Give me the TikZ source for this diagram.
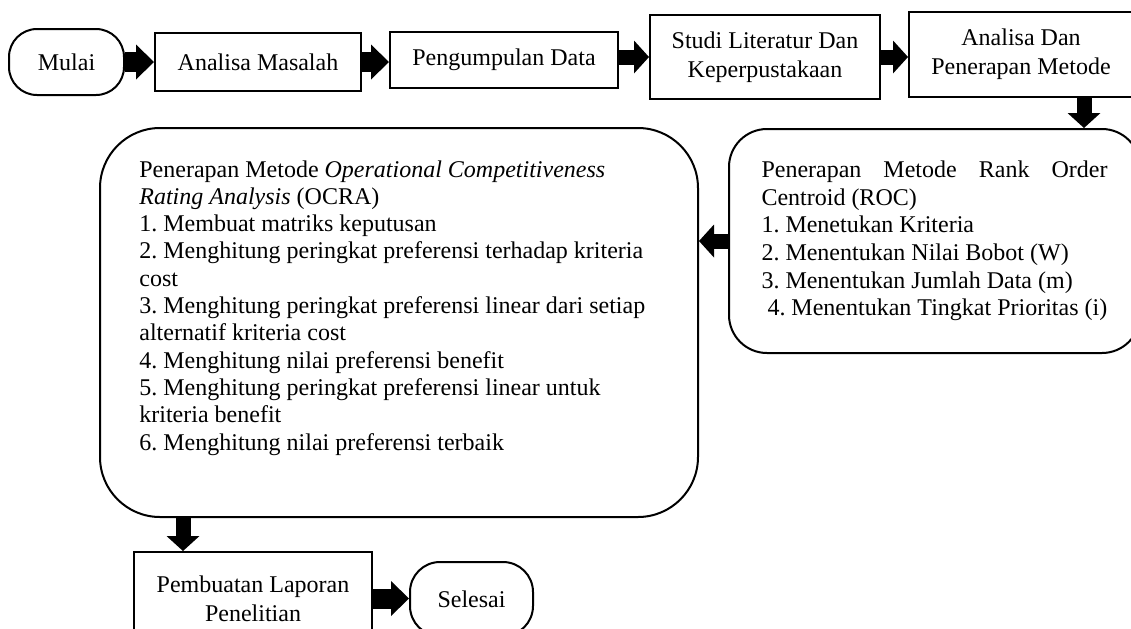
\documentclass[tikz,border=0pt]{standalone}
\usepackage{fontspec}
\setmainfont{Liberation Serif}
\frenchspacing
\usetikzlibrary{arrows.meta, positioning, calc}

\tikzset{
  procbox/.style={draw, line width=1pt, align=center, inner sep=2pt, font=\fontsize{12}{14.5}\selectfont},
  termbox/.style={procbox, rounded corners=14pt},
  methodbox/.style={draw, line width=1pt, align=left},
  methodtext/.style={align=left, inner sep=0pt, font=\fontsize{12}{13.65}\selectfont},
  fatarrow/.style={line width=10pt, -{Triangle[length=9pt, width=17.5pt, line width=0pt]}},
  slimarrow/.style={line width=7.5pt, -{Triangle[length=7.5pt, width=16.5pt, line width=0pt]}},
}

\begin{document}
\begin{tikzpicture}[x=0.5pt, y=-0.5pt]
  \useasboundingbox (0,0) rectangle (1131,628);

  % Top row
  \node[termbox, minimum width=57.5pt, minimum height=33pt] (mulai) at (66.5,62) {Mulai};
  \node[procbox, minimum width=103pt, minimum height=29pt] (masalah) at (258,62) {Analisa Masalah};
  \node[procbox, minimum width=114pt, minimum height=28pt] (data) at (504,60) {Pengumpulan Data};
  \node[procbox, minimum width=115pt, minimum height=42pt] (studi) at (765,57) {Studi Literatur Dan\\Keperpustakaan};
  \node[procbox, minimum width=112pt, minimum height=42.5pt] (analisa) at (1021,54.5) {Analisa Dan\\Penerapan Metode};

  \draw[fatarrow] (mulai.east) -- (mulai.east -| masalah.west);
  \draw[fatarrow] (masalah.east) -- (masalah.east -| data.west);
  \draw[slimarrow] (data.east |- studi.west) -- (studi.west);
  \draw[slimarrow] (studi.east) -- (studi.east -| analisa.west);

  % ROC
  \node[methodbox, rounded corners=19pt, minimum width=205.5pt, minimum height=112pt,
        font=\fontsize{12}{13.8}\selectfont] (roc) at (934.5,241) {
    \makebox[173pt][s]{Penerapan Metode Rank Order}\\
    Centroid (ROC)\\
    1. Menetukan Kriteria\\
    2. Menentukan Nilai Bobot (W)\\
    3. Menentukan Jumlah Data (m)\\
    \ 4. Menentukan Tingkat Prioritas (i)
  };
  \draw[slimarrow] ([xshift=-25pt]analisa.south east) -- ([xshift=-25pt]analisa.south east |- roc.north);

  % OCRA
  \node[methodbox, rounded corners=30pt, minimum width=299pt, minimum height=194.5pt] (ocra) at (399,322.5) {};
  \node[methodtext, anchor=north west] (ocratext) at (139,160) {
    Penerapan Metode \textit{Operational Competitiveness}\\
    \textit{Rating Analysis} (OCRA)\\
    1. Membuat matriks keputusan\\
    2. Menghitung peringkat preferensi terhadap kriteria\\
    cost\\
    3. Menghitung peringkat preferensi linear dari setiap\\
    alternatif kriteria cost\\
    4. Menghitung nilai preferensi benefit\\
    5. Menghitung peringkat preferensi linear untuk\\
    kriteria benefit\\
    6. Menghitung nilai preferensi terbaik
  };
  \draw[slimarrow] (roc.west) -- (roc.west -| ocra.east);

  % Bottom row
  \node[procbox, minimum width=119pt, minimum height=46.5pt] (laporan) at (253,598.5) {Pembuatan Laporan\\Penelitian};
  \node[termbox, rounded corners=15pt, minimum width=61.5pt, minimum height=37pt] (selesai) at (471.5,599) {Selesai};

  \draw[slimarrow] ([xshift=25pt]laporan.north west |- ocra.south) -- ([xshift=25pt]laporan.north west);
  \draw[fatarrow] (laporan.east) -- (laporan.east -| selesai.west);
\end{tikzpicture}
\end{document}
